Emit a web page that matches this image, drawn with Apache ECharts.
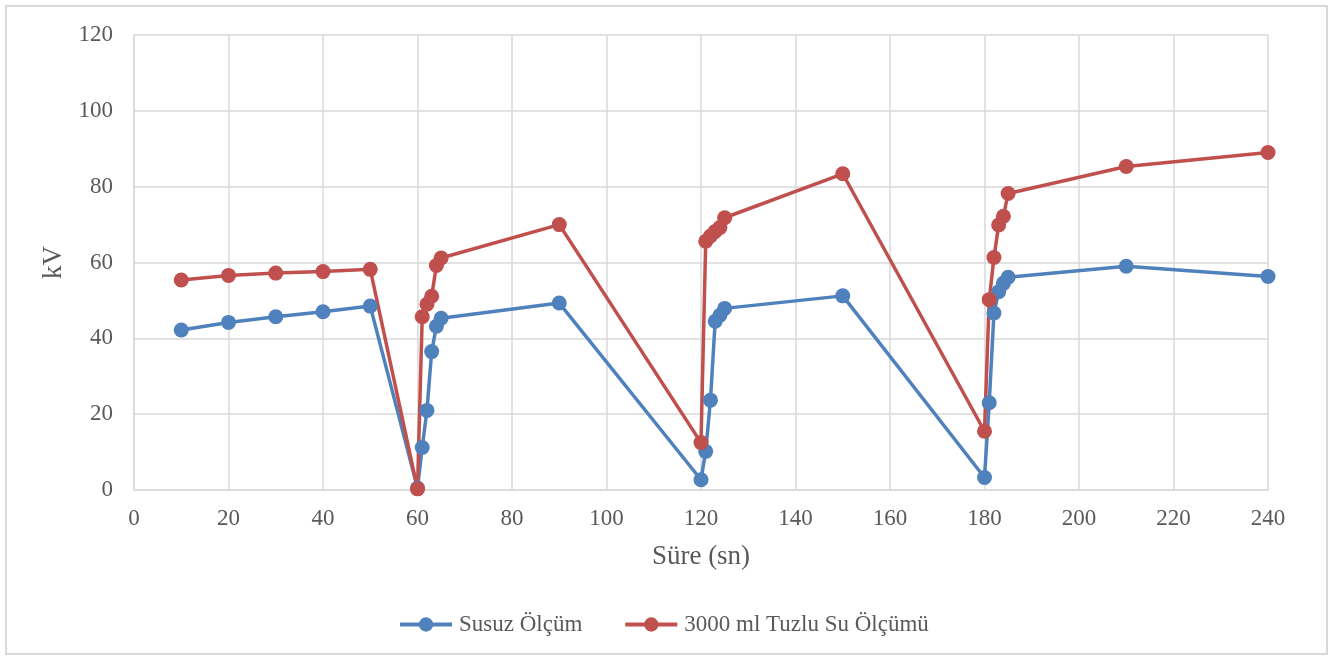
<!DOCTYPE html>
<html>
<head>
<meta charset="utf-8">
<script src="https://cdn.jsdelivr.net/npm/echarts@6/dist/echarts.min.js"></script>
<style>
  html, body { margin: 0; padding: 0; background: #fff; }
  #frame { position: absolute; left: 5px; top: 5px; width: 1323px; height: 650px; border: 2px solid #d9d9d9; box-sizing: border-box; }
  #chart { width: 1334px; height: 659px; }
</style>
</head>
<body>
<div id="frame"></div>
<div id="chart"></div>
<script>
// Time (s)
const timeSusuz = [10, 20, 30, 40, 50, 60, 61, 62, 63, 64, 65, 90, 120, 121, 122, 123, 124, 125, 150, 180, 181, 182, 183, 184, 185, 210, 240];
const kvSusuz   = [42.2, 44.2, 45.7, 47.0, 48.5, 0.5, 11.2, 21.0, 36.5, 43.2, 45.3, 49.3, 2.7, 10.2, 23.7, 44.5, 46.1, 47.9, 51.2, 3.3, 23.0, 46.7, 52.3, 54.5, 56.1, 59.0, 56.3];

const timeTuzlu = [10, 20, 30, 40, 50, 60, 61, 62, 63, 64, 65, 90, 120, 121, 122, 123, 124, 125, 150, 180, 181, 182, 183, 184, 185, 210, 240];
const kvTuzlu   = [55.4, 56.6, 57.2, 57.6, 58.2, 0.3, 45.7, 49.0, 51.1, 59.2, 61.2, 70.0, 12.5, 65.6, 67.0, 68.2, 69.2, 71.8, 83.4, 15.5, 50.2, 61.3, 69.9, 72.2, 78.2, 85.3, 89.0];

const seriesNames = ['Susuz Ölçüm', '3000 ml Tuzlu Su Ölçümü'];
const xTitle = 'Süre (sn)';
const yTitle = 'kV';

const pair = (xs, ys) => xs.map((x, i) => [x, ys[i]]);

const textColor = '#595959';
const gridColor = '#d9d9d9';
const font = 'Liberation Serif';

const chart = echarts.init(document.getElementById('chart'));
chart.setOption({
  animation: false,
  grid: { left: 134, right: 66, top: 35, bottom: 169 },
  xAxis: {
    type: 'value', min: 0, max: 240, interval: 20,
    name: xTitle, nameLocation: 'middle', nameGap: 53,
    nameTextStyle: { color: textColor, fontFamily: font, fontSize: 27 },
    axisLine: { show: true, lineStyle: { color: gridColor, width: 1.5 } },
    axisTick: { show: false },
    axisLabel: { color: textColor, fontFamily: font, fontSize: 23, margin: 17 },
    splitLine: { show: true, lineStyle: { color: gridColor, width: 1.5 } }
  },
  yAxis: {
    type: 'value', min: 0, max: 120, interval: 20,
    name: yTitle, nameLocation: 'middle', nameGap: 67,
    nameTextStyle: { color: textColor, fontFamily: font, fontSize: 27 },
    axisLine: { show: true, lineStyle: { color: gridColor, width: 1.5 } },
    axisTick: { show: false },
    axisLabel: { color: textColor, fontFamily: font, fontSize: 23, margin: 21 },
    splitLine: { show: true, lineStyle: { color: gridColor, width: 1.5 } }
  },
  legend: {
    top: 608, left: 393, itemGap: 41,
    itemWidth: 52, itemHeight: 18,
    lineStyle: { width: 4 },
    textStyle: { color: textColor, fontFamily: font, fontSize: 23, padding: [0, 0, 0, 2] },
    data: seriesNames
  },
  series: [
    {
      name: seriesNames[0], type: 'line', data: pair(timeSusuz, kvSusuz),
      symbol: 'circle', symbolSize: 15,
      lineStyle: { color: '#4f81bd', width: 3.5 },
      itemStyle: { color: '#4f81bd' }
    },
    {
      name: seriesNames[1], type: 'line', data: pair(timeTuzlu, kvTuzlu),
      symbol: 'circle', symbolSize: 15,
      lineStyle: { color: '#c0504d', width: 3.5 },
      itemStyle: { color: '#c0504d' }
    }
  ]
});
</script>
</body>
</html>
